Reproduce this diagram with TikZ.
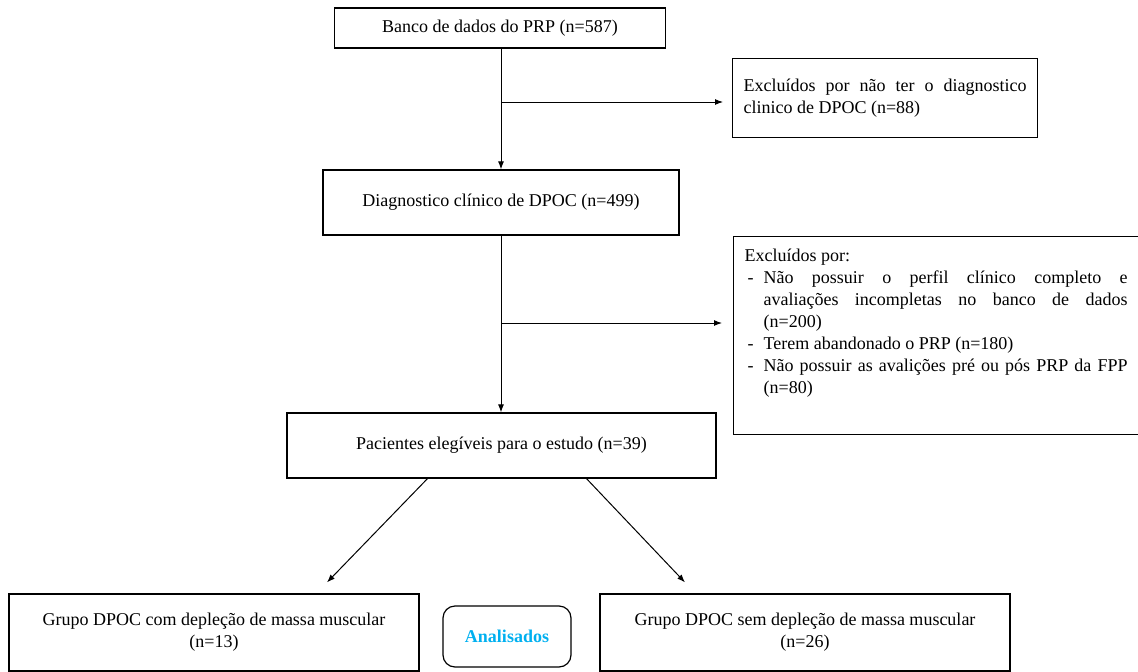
\documentclass[tikz,border=0pt]{standalone}
\usepackage{fontspec}
\setmainfont{LiberationSerif}[Extension=.ttf,UprightFont=*-Regular,BoldFont=*-Bold,ItalicFont=*-Italic,BoldItalicFont=*-BoldItalic]
\usetikzlibrary{arrows.meta}
\definecolor{analblue}{RGB}{0,176,240}

\begin{document}
\begin{tikzpicture}[x=1pt,y=-1pt,
  every node/.style={font=\rmfamily\fontsize{18}{22}\selectfont},
  box/.style={draw,line width=1.2pt,inner sep=0pt,align=center},
  flow/.style={->,line width=1pt},
  >={Latex[length=8pt,width=6pt]}]
\useasboundingbox (0,0) rectangle (1138,672);

\node[box,minimum width=331pt,minimum height=40pt] (banco) at (500,28) {Banco de dados do PRP (n=587)};
\node[box,anchor=north west,minimum width=305pt,minimum height=79pt,text width=283pt,align=justify] (excl1) at (732,58)
  {Excluídos por não ter o diagnostico\linebreak clinico de DPOC (n=88)};
\node[box,minimum width=356pt,minimum height=65pt] (diag) at (501,202.5) {Diagnostico clínico de DPOC (n=499)};
\node[box,anchor=north west,inner xsep=11pt,inner ysep=0pt] (excl2) at (733,236)
  {\parbox[c][198pt][t]{383pt}{\vspace*{12pt}Excluídos por:\par
  \hangindent=19pt\hangafter=1\makebox[19pt][l]{\hspace{3pt}-}Não possuir o perfil clínico completo e\linebreak
  avaliações incompletas no banco de dados\linebreak (n=200)\par
  \hangindent=19pt\hangafter=1\makebox[19pt][l]{\hspace{3pt}-}Terem abandonado o PRP (n=180)\par
  \hangindent=19pt\hangafter=1\makebox[19pt][l]{\hspace{3pt}-}Não possuir as avalições pré ou pós PRP da FPP\linebreak (n=80)\par}\hspace{20pt}};
\node[box,minimum width=429pt,minimum height=65pt] (pac) at (501.5,445.5) {Pacientes elegíveis para o estudo (n=39)};
\node[box,minimum width=410pt,minimum height=77pt] (grpcom) at (214,632.5) {Grupo DPOC com depleção de massa muscular\\(n=13)};
\node[box,minimum width=410pt,minimum height=77pt] (grpsem) at (805,632.5) {Grupo DPOC sem depleção de massa muscular\\(n=26)};
\node[box,rounded corners=12pt,minimum width=128pt,minimum height=61pt,text=analblue] (anal) at (507,636.5) {\textbf{Analisados}};

\coordinate (b1) at (501,102);
\coordinate (b2) at (501,323);
\draw[flow] (banco.south -| b1) -- (diag.north -| b1);
\draw[flow,shorten >=9pt] (b1) -- (b1 -| excl1.west);
\draw[flow] (diag.south -| b2) -- (pac.north -| b2);
\draw[flow,shorten >=11pt] (b2) -- (b2 -| excl2.west);
\draw[flow] ([xshift=-74pt]pac.south) -- ([xshift=113pt,yshift=11pt]grpcom.north);
\draw[flow] ([xshift=85pt]pac.south) -- ([xshift=-120pt,yshift=11pt]grpsem.north);
\end{tikzpicture}
\end{document}
